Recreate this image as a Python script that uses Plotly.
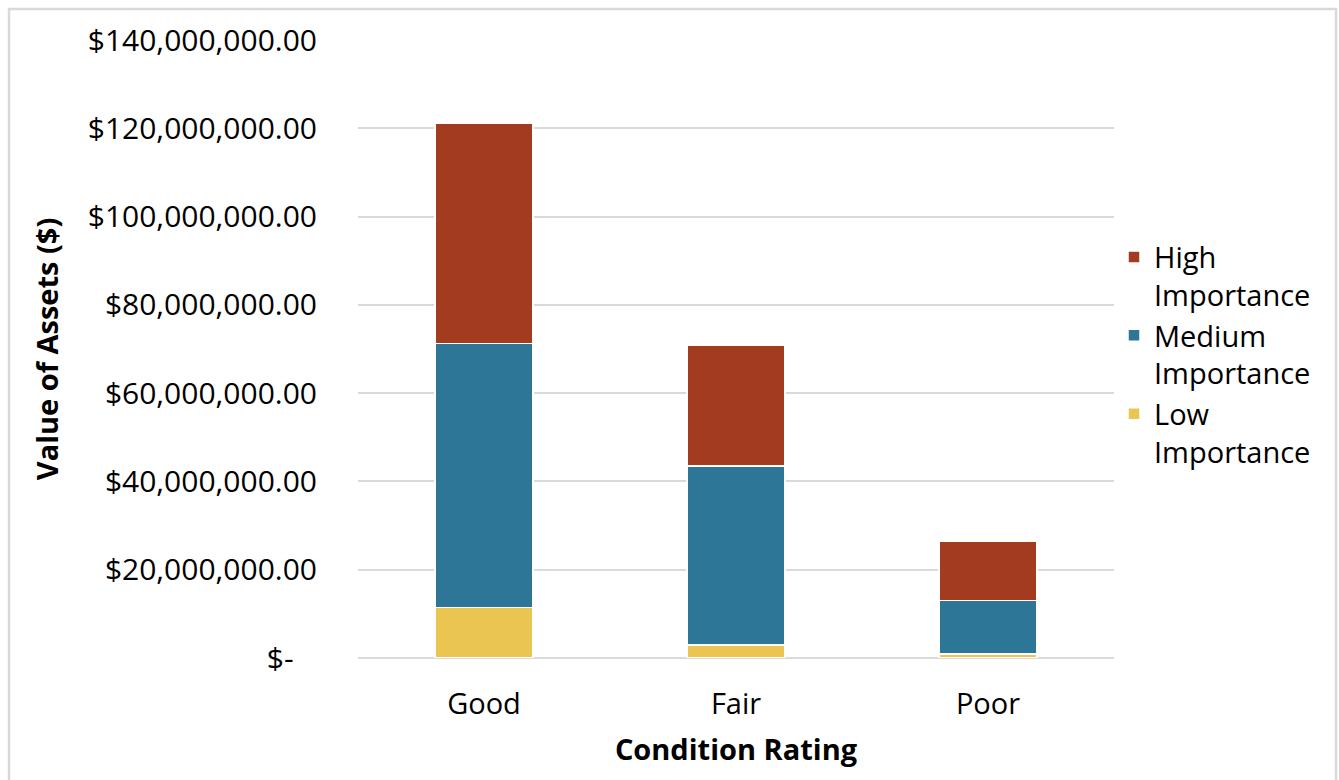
import plotly.graph_objects as go

# Asset value by condition rating, split by importance level (US$)
conditions = ["Good", "Fair", "Poor"]
low_importance = [11.4e6, 3.0e6, 0.9e6]
medium_importance = [59.8e6, 40.5e6, 12.1e6]
high_importance = [49.9e6, 27.4e6, 13.4e6]

tick_values = [0, 20e6, 40e6, 60e6, 80e6, 100e6, 120e6, 140e6]
tick_labels = ["$-\u00a0\u00a0\u00a0", "$20,000,000.00", "$40,000,000.00", "$60,000,000.00",
               "$80,000,000.00", "$100,000,000.00", "$120,000,000.00", "$140,000,000.00"]

FONT = "Open Sans"
COLORS = {"low": "#EAC552", "medium": "#2E7698", "high": "#A33C1E"}

fig = go.Figure()
series = [
    ("Low<br>Importance", low_importance, COLORS["low"]),
    ("Medium<br>Importance", medium_importance, COLORS["medium"]),
    ("High<br>Importance", high_importance, COLORS["high"]),
]
for name, values, color in series:
    fig.add_trace(go.Bar(
        x=conditions, y=values, name=name,
        marker=dict(color=color, line=dict(color="white", width=1.5)),
    ))

fig.update_layout(
    barmode="stack",
    bargap=0.61,
    width=1339, height=780,
    margin=dict(l=358, r=225, t=40, b=122),
    paper_bgcolor="white",
    plot_bgcolor="white",
    font=dict(family=FONT, size=30, color="#000000"),
    legend=dict(
        traceorder="reversed",
        x=1.0, xanchor="left",
        y=0.69, yanchor="top",
        valign="top",
        font=dict(family=FONT, size=29, color="#000000"),
        bgcolor="rgba(0,0,0,0)",
    ),
    xaxis=dict(
        title=dict(text="<b>Condition Rating</b>", font=dict(family=FONT, size=29), standoff=18),
        showgrid=False, showline=False, zeroline=False,
        ticks="", ticklabelstandoff=26,
        tickfont=dict(family=FONT, size=29),
    ),
    yaxis=dict(
        title=dict(text="<b>Value of Assets ($)</b>", font=dict(family=FONT, size=29), standoff=20),
        range=[0, 140e6],
        tickvals=tick_values, ticktext=tick_labels,
        showgrid=True, gridcolor="#D9D9D9", gridwidth=1.5,
        zeroline=True, zerolinecolor="#D9D9D9", zerolinewidth=1.5,
        ticks="", ticklabelstandoff=40,
        tickfont=dict(family=FONT, size=30),
    ),
    shapes=[dict(
        type="rect", xref="paper", yref="paper",
        x0=-0.4616, x1=1.2937, y0=-0.25, y1=1.0502,
        line=dict(color="#D9D9D9", width=2.5), fillcolor="rgba(0,0,0,0)",
        layer="below",
    )],
)

fig.write_html("out.html")
